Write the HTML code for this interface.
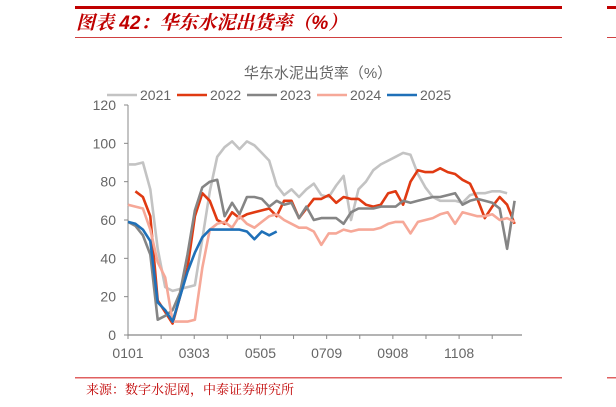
<!DOCTYPE html>
<html><head><meta charset="utf-8">
<style>
body{margin:0;background:#fff;width:616px;height:407px;overflow:hidden;font-family:"Liberation Sans","Noto Sans CJK SC",sans-serif;}
svg{display:block}
</style></head>
<body>
<svg id="chart" width="616" height="407" viewBox="0 0 616 407">
  <rect x="75" y="6" width="487" height="3" fill="#c00000"/>
  <rect x="607" y="6" width="9" height="3" fill="#c00000"/>
  <text x="76" y="29" font-size="19" font-weight="bold" font-style="italic" fill="#c00000" font-family="'Liberation Sans','Noto Serif CJK SC',serif">图表 42：华东水泥出货率（%）</text>
  <rect x="75" y="37" width="487" height="1" fill="#d04040"/>
  <rect x="607" y="37" width="9" height="1" fill="#d04040"/>
  <text x="318" y="78" font-size="15" fill="#666" text-anchor="middle">华东水泥出货率（%）</text>
  <g id="legend"></g>
  <g id="axes"></g>
  <g id="series"></g>
  <rect x="75" y="377" width="487" height="1.5" fill="#e06060"/>
  <rect x="607" y="377" width="9" height="1.5" fill="#e06060"/>
  <text x="86" y="394" font-size="13" fill="#c00000" font-family="'Liberation Serif','Noto Serif CJK SC',serif">来源：数字水泥网，中泰证券研究所</text>
</svg>
<script>
const years = ["2021","2022","2023","2024","2025"];
const colors = ["#c3c3c3","#e03a12","#858585","#f6a898","#1f70b8"];
const yTicks = [0,20,40,60,80,100,120];
const xLabels = ["0101","0303","0505","0709","0908","1108"];
const s2021 = [89,89,90,76,45,25,23,24,25,26,50,75,93,98,101,97,101,99,95,91,78,73,76,72,76,79,73,72,78,83,60,76,80,86,89,91,93,95,94,84,77,72,70,70,70,69,73,74,74,75,75,74];
const s2022 = [null,75,72,62,18,12,6,20,35,62,74,70,60,58,64,61,63,64,65,66,62,70,70,61,66,71,71,73,69,72,71,71,68,67,68,74,75,68,80,86,85,85,87,85,84,81,79,71,61,67,72,68,58];
const s2023 = [59,57,52,42,8,10,13,22,42,65,77,80,81,62,69,63,72,72,71,67,70,68,69,61,67,60,61,61,61,58,64,66,66,66,67,67,67,70,69,70,71,72,72,73,74,68,70,71,70,69,66,45,70];
const s2024 = [68,67,66,55,38,30,7,7,7,8,35,55,58,59,56,62,58,56,59,62,63,60,58,56,56,54,47,53,53,55,54,55,55,55,56,58,59,59,53,59,60,61,63,64,58,64,63,62,62,63,60,61,59];
const s2025 = [59,58,55,49,17,13,7,20,33,43,51,55,55,55,55,55,54,50,54,52,54];
const seriesData = [s2021,s2022,s2023,s2024,s2025];

const NS="http://www.w3.org/2000/svg";
const X0=128, X1=522, Y0=335, Y1=105, NW=53;
const xs = w => X0 + (X1-X0)*w/NW;
const ys = v => Y0 - (Y0-Y1)*v/120;
function mk(tag, attrs, parent){const e=document.createElementNS(NS,tag);for(const k in attrs)e.setAttribute(k,attrs[k]);parent.appendChild(e);return e;}
const axes=document.getElementById('axes'), ser=document.getElementById('series'), leg=document.getElementById('legend');

const yAxis = mk('line',{x1:X0,y1:Y1,x2:X0,y2:Y0,stroke:'#888','stroke-width':1},axes);


const xAxis = mk('line',{x1:X0,y1:Y0,x2:X1,y2:Y0,stroke:'#888','stroke-width':1.2},axes);


yTicks.forEach(v=>{
  const t=mk('line',{x1:X0-4,y1:ys(v),x2:X0,y2:ys(v),stroke:'#888'},axes);
  
  
  const l=mk('text',{x:X0-12,y:ys(v)+5,'font-size':14,fill:'#666','text-anchor':'end'},axes);
  l.textContent=v;
  
  
});
for(let i=0;i<=12;i++){
  const x=X0+(X1-X0)*i/11.9;
  if(x>X1+1)break;
  const t=mk('line',{x1:x,y1:Y0,x2:x,y2:Y0+4,stroke:'#888'},axes);
  
  
}
xLabels.forEach((s,i)=>{
  const x=X0+(X1-X0)*(2*i)/11.9;
  const l=mk('text',{x:x,y:358,'font-size':14,fill:'#666','text-anchor':'middle'},axes);
  l.textContent=s;
  
  
});
seriesData.forEach((arr,si)=>{
  let d='';let pen=false;
  arr.forEach((v,w)=>{ if(v==null){pen=false;return;} d+=(pen?'L':'M')+xs(w).toFixed(1)+','+ys(v).toFixed(1); pen=true;});
  const p=mk('path',{d:d,fill:'none',stroke:colors[si],'stroke-width':2.6,'stroke-linejoin':'round'},ser);
  
  
});
years.forEach((y,i)=>{
  const lx=107+70*i;
  const g=mk('g',{},leg);
  
  
  mk('line',{x1:lx,y1:95,x2:lx+30,y2:95,stroke:colors[i],'stroke-width':2.6},g);
  const t=mk('text',{x:lx+33,y:100,'font-size':14,fill:'#666'},g);
  t.textContent=y;
});
</script>
</body></html>
